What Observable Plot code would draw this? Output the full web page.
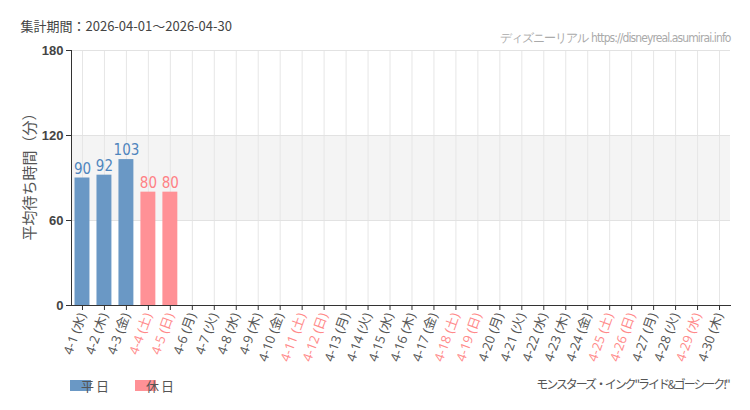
<!DOCTYPE html>
<html>
<head>
<meta charset="utf-8">
<script src="https://cdn.jsdelivr.net/npm/d3@7"></script>
<script src="https://cdn.jsdelivr.net/npm/@observablehq/plot@0.6"></script>
<style>
  body { margin: 0; background: #fff; }
</style>
</head>
<body>
<div id="chart"></div>
<script>
const days = ["4-1","4-2","4-3","4-4","4-5","4-6","4-7","4-8","4-9","4-10","4-11","4-12","4-13","4-14","4-15","4-16","4-17","4-18","4-19","4-20","4-21","4-22","4-23","4-24","4-25","4-26","4-27","4-28","4-29","4-30"];
const weekdays = ["水","木","金","土","日","月","火","水","木","金","土","日","月","火","水","木","金","土","日","月","火","水","木","金","土","日","月","火","水","木"];
const values = [90, 92, 103, 80, 80, null, null, null, null, null, null, null, null, null, null, null, null, null, null, null, null, null, null, null, null, null, null, null, null, null];
const holidays = ["4-4","4-5","4-11","4-12","4-18","4-19","4-25","4-26","4-29"];
const yTicks = [0, 60, 120, 180];
const titleText = "集計期間：2026-04-01～2026-04-30";
const sourceText = "ディズニーリアル https://disneyreal.asumirai.info";
const captionText = "モンスターズ・インク\"ライド&ゴーシーク!\"";
const yLabel = "平均待ち時間（分）";
const legendLabels = ["平日", "休日"];

const BLUE = "#6a98c5", PINK = "#ff9196";
const BLUE_T = "#4f85bd", PINK_T = "#ff8084";

const rows = days.map((d, i) => ({
  label: `${d} (${weekdays[i]})`,
  value: values[i],
  holiday: holidays.includes(d)
}));
const labels = rows.map(r => r.label);
const holLabels = rows.filter(r => r.holiday).map(r => r.label);
const workLabels = rows.filter(r => !r.holiday).map(r => r.label);
const withVal = rows.filter(r => r.value != null);

const font = "'Noto Sans CJK JP', 'Noto Sans', sans-serif";
const labelFont = "'Open Sans', 'Noto Sans CJK JP', sans-serif";
const narrow = "'DejaVu Sans Condensed', 'Liberation Sans Narrow', 'Roboto Condensed', Roboto, sans-serif";

const chart = Plot.plot({
  width: 750,
  height: 410,
  marginLeft: 71,
  marginRight: 20,
  marginTop: 50,
  marginBottom: 105,
  style: { fontFamily: font, fontSize: "12px", background: "#fff", color: "#333" },
  x: { type: "band", domain: labels, paddingInner: 0.32, paddingOuter: 0.16, round: false, axis: null },
  y: { domain: [0, 180], axis: null },
  marks: [
    Plot.rectY([{ y1: 60, y2: 120 }], { y1: "y1", y2: "y2", fill: "#f4f4f4" }),
    Plot.gridX(labels, { stroke: "#e6e6e6", strokeOpacity: 1 }),
    Plot.gridY([60, 120, 180], { stroke: "#e2e2e2", strokeOpacity: 1 }),
    Plot.barY(withVal.filter(r => !r.holiday), { x: "label", y: "value", fill: BLUE }),
    Plot.barY(withVal.filter(r => r.holiday), { x: "label", y: "value", fill: PINK }),
    Plot.text(withVal.filter(r => !r.holiday), { x: "label", y: "value", text: d => String(d.value), dy: -9, fill: BLUE_T, fontSize: 15, fontFamily: narrow }),
    Plot.text(withVal.filter(r => r.holiday), { x: "label", y: "value", text: d => String(d.value), dy: -9, fill: PINK_T, fontSize: 15, fontFamily: narrow }),
    Plot.frame({ anchor: "left", stroke: "#333" }),
    Plot.frame({ anchor: "bottom", stroke: "#333" }),
    Plot.axisY({ ticks: yTicks, tickSize: 5, tickPadding: 3, fontSize: 13, fontWeight: "bold", fontFamily: "'Liberation Sans', sans-serif", fill: "#444", stroke: "#333", label: null }),
    Plot.axisX(workLabels, { tickSize: 5, tickRotate: -70, tickPadding: 3, fill: "#555", stroke: "#333", fontSize: 13, fontFamily: labelFont, label: null }),
    Plot.axisX(holLabels, { tickSize: 5, tickRotate: -70, tickPadding: 3, fill: "#ff8a8a", stroke: "#333", fontSize: 13, fontFamily: labelFont, label: null }),
    Plot.text([yLabel], { frameAnchor: "left", textAnchor: "middle", dx: -41, dy: -5, rotate: -90, fontSize: 15, fill: "#555" }),
    Plot.text([titleText], { frameAnchor: "top-left", textAnchor: "start", lineAnchor: "middle", dx: -51, dy: -24, fontSize: 13, fill: "#444" }),
    Plot.text([sourceText], { frameAnchor: "top-right", textAnchor: "end", lineAnchor: "middle", dy: -12, fontSize: 12, fill: "#aaa", fontFamily: narrow }),
    Plot.text([captionText], { frameAnchor: "bottom-right", textAnchor: "end", lineAnchor: "middle", dx: -2, dy: 80, fontSize: 12, fill: "#555" })
  ]
});

const svg = d3.select(chart);
// narrow glyph spacing like the reference
svg.selectAll("text").filter(function () { return this.textContent === captionText; }).attr("letter-spacing", "-2.1px");
svg.selectAll("text").filter(function () { return this.textContent === sourceText; }).attr("letter-spacing", "-0.9px");
// legend swatches
const lg = svg.append("g").attr("font-family", font).attr("font-size", 13);
[[70, BLUE, legendLabels[0]], [135, PINK, legendLabels[1]]].forEach(([x, c, t]) => {
  lg.append("rect").attr("x", x).attr("y", 380).attr("width", 21).attr("height", 11).attr("fill", c);
  lg.append("text").attr("x", x + 26).attr("y", 386).attr("dy", "0.35em").attr("fill", "#555").attr("letter-spacing", "2px").text(t);
});

document.getElementById("chart").appendChild(chart);
</script>
</body>
</html>
